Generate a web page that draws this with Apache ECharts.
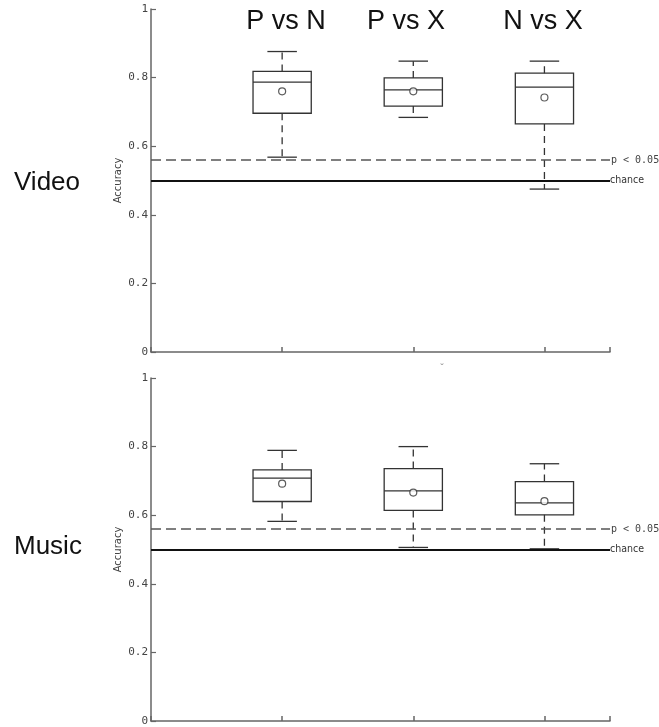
<!DOCTYPE html>
<html>
<head>
<meta charset="utf-8">
<script src="https://cdn.jsdelivr.net/npm/echarts@6/dist/echarts.min.js"></script>
<style>
  html, body { margin: 0; padding: 0; background: #fff; }
  #chart { width: 659px; height: 727px; }
</style>
</head>
<body>
<div id="chart"></div>
<script>
// comparisons, one box per pair
var categories = ['P vs N', 'P vs X', 'N vs X'];
var panels = ['Video', 'Music'];
var yTicks = [0, 0.2, 0.4, 0.6, 0.8, 1];

// video box values
var videoLow = [0.568, 0.684, 0.475];
var videoQ1 = [0.696, 0.717, 0.665];
var videoMedian = [0.787, 0.764, 0.772];
var videoQ3 = [0.818, 0.799, 0.813];
var videoHigh = [0.876, 0.848, 0.848];
var videoMean = [0.760, 0.760, 0.742];

// music box values
var musicLow = [0.582, 0.506, 0.502];
var musicQ1 = [0.640, 0.614, 0.601];
var musicMedian = [0.708, 0.671, 0.636];
var musicQ3 = [0.732, 0.736, 0.698];
var musicHigh = [0.789, 0.800, 0.750];
var musicMean = [0.692, 0.666, 0.641];

// reference lines
var pThreshold = 0.558;
var chanceLevel = 0.5;

var chart = echarts.init(document.getElementById('chart'));

function boxRows(low, q1, med, q3, high) {
    return categories.map(function (c, i) {
        return [i + 1, low[i], q1[i], med[i], q3[i], high[i]];
    });
}
function meanRows(mean) {
    return categories.map(function (c, i) { return [i + 1, mean[i]]; });
}

var boxColor = '#333';
function renderBox(params, api) {
    var x = api.value(0);
    var low = api.coord([x, api.value(1)]);
    var q1 = api.coord([x, api.value(2)]);
    var med = api.coord([x, api.value(3)]);
    var q3 = api.coord([x, api.value(4)]);
    var high = api.coord([x, api.value(5)]);
    var halfBox = api.size([0.444, 0])[0] / 2;
    var halfCap = api.size([0.225, 0])[0] / 2;
    var cx = low[0];
    var solid = { stroke: boxColor, lineWidth: 1.3, fill: null };
    var dashed = { stroke: boxColor, lineWidth: 1.3, lineDash: [7, 5] };
    return {
        type: 'group',
        children: [
            { type: 'line', shape: { x1: cx, y1: q3[1], x2: cx, y2: high[1] }, style: dashed },
            { type: 'line', shape: { x1: cx, y1: q1[1], x2: cx, y2: low[1] }, style: dashed },
            { type: 'line', shape: { x1: cx - halfCap, y1: high[1], x2: cx + halfCap, y2: high[1] }, style: solid },
            { type: 'line', shape: { x1: cx - halfCap, y1: low[1], x2: cx + halfCap, y2: low[1] }, style: solid },
            { type: 'rect', shape: { x: cx - halfBox, y: q3[1], width: halfBox * 2, height: q1[1] - q3[1] }, style: solid },
            { type: 'line', shape: { x1: cx - halfBox, y1: med[1], x2: cx + halfBox, y2: med[1] }, style: solid }
        ]
    };
}

var axisGray = '#666';
function xAxisFor(idx) {
    return {
        type: 'value', gridIndex: idx, min: 0, max: 3.5, interval: 1,
        axisLine: { show: true, onZero: false, lineStyle: { color: axisGray, width: 1.5 } },
        axisTick: { show: true, inside: true, length: 5, lineStyle: { color: axisGray, width: 1.5 } },
        axisLabel: { show: false },
        splitLine: { show: false }
    };
}
function yAxisFor(idx) {
    return {
        type: 'value', gridIndex: idx, min: yTicks[0], max: yTicks[yTicks.length - 1], interval: 0.2,
        name: 'Accuracy', nameLocation: 'middle', nameGap: 28, nameRotate: 90, nameMoveOverlap: false,
        nameTextStyle: { fontFamily: 'DejaVu Sans', fontSize: 10, color: '#444' },
        axisLine: { show: true, lineStyle: { color: axisGray, width: 1.5 } },
        axisTick: { show: true, inside: true, length: 5, lineStyle: { color: axisGray, width: 1.2 } },
        axisLabel: {
            margin: 3, fontFamily: 'DejaVu Sans Mono', fontSize: 11, color: '#444',
            formatter: function (v) { return (v === 0 || v === 1) ? String(v) : v.toFixed(1); }
        },
        splitLine: { show: false }
    };
}

function refLines() {
    return {
        silent: true, symbol: 'none', animation: false,
        data: [
            { yAxis: pThreshold, lineStyle: { color: '#555', width: 1.5, type: [10, 5] },
              label: { show: true, position: 'end', distance: 1, formatter: 'p < 0.05', fontFamily: 'DejaVu Sans Mono', fontSize: 10, color: '#444', padding: [0, 0, 7, 0] } },
            { yAxis: chanceLevel, lineStyle: { color: '#111', width: 2, type: 'solid' },
              label: { show: true, position: 'end', distance: 0, formatter: 'chance', fontFamily: 'DejaVu Sans Condensed', fontSize: 10.5, color: '#333' } }
        ]
    };
}

var allBoxes = [
    boxRows(videoLow, videoQ1, videoMedian, videoQ3, videoHigh),
    boxRows(musicLow, musicQ1, musicMedian, musicQ3, musicHigh)
];
var allMeans = [meanRows(videoMean), meanRows(musicMean)];

var series = [];
panels.forEach(function (p, i) {
    series.push({
        type: 'custom', name: p, xAxisIndex: i, yAxisIndex: i,
        renderItem: renderBox, data: allBoxes[i], z: 3,
        markLine: refLines()
    });
    series.push({
        type: 'scatter', xAxisIndex: i, yAxisIndex: i, data: allMeans[i],
        symbol: 'circle', symbolSize: 7, z: 5,
        itemStyle: { color: '#fff', borderColor: boxColor, borderWidth: 1.2 }
    });
});

var titleX = [286, 406, 543];
var panelY = [183, 547];
var graphics = [];
categories.forEach(function (c, i) {
    graphics.push({ type: 'text', x: titleX[i], y: 22,
        style: { text: c, fontFamily: 'Liberation Sans', fontSize: 27, fill: '#111', textAlign: 'center', textVerticalAlign: 'middle' } });
});
panels.forEach(function (p, i) {
    graphics.push({ type: 'text', x: 14, y: panelY[i],
        style: { text: p, fontFamily: 'Liberation Sans', fontSize: 26, fill: '#111', textAlign: 'left', textVerticalAlign: 'middle' } });
});
// small cut-off mark above the lower panel
graphics.push({ type: 'text', x: 442, y: 369,
    style: { text: '\u02d8', fontFamily: 'DejaVu Sans', fontSize: 9, fill: '#777', textAlign: 'center', textVerticalAlign: 'middle' } });

chart.setOption({
    animation: false,
    grid: [
        { left: 151, right: 49, top: 9, height: 343 },
        { left: 151, right: 49, top: 378, height: 343 }
    ],
    xAxis: [xAxisFor(0), xAxisFor(1)],
    yAxis: [yAxisFor(0), yAxisFor(1)],
    series: series,
    graphic: graphics
});
</script>
</body>
</html>
